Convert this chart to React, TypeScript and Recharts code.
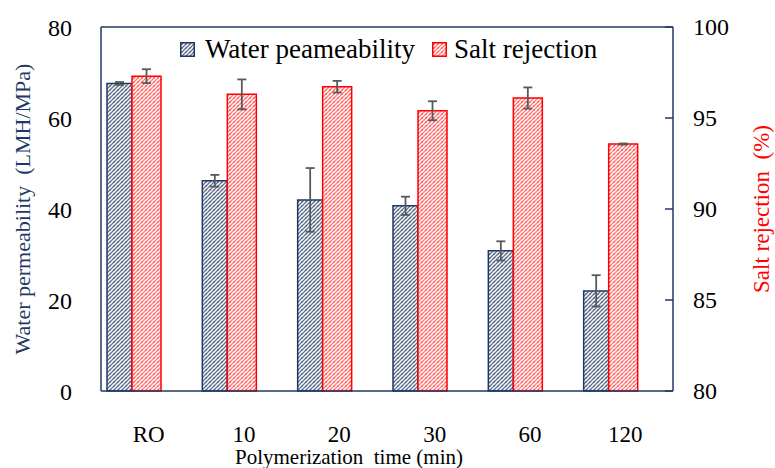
import { BarChart, Bar, XAxis, YAxis, ErrorBar, Legend, ReferenceLine } from "recharts";

const categories = ["RO", "10", "20", "30", "60", "120"];
const waterPermeability = [67.6, 46.2, 42.0, 40.7, 30.8, 22.0];
const waterError = [0.3, 1.3, 7.0, 2.0, 2.1, 3.45];
const saltRejection = [97.3, 96.3, 96.72, 95.4, 96.1, 93.57];
const saltError = [0.38, 0.82, 0.32, 0.52, 0.58, 0.03];
const leftTicks = [0, 20, 40, 60, 80];
const rightTicks = [80, 85, 90, 95, 100];

const data = categories.map((name, i) => ({
  name,
  water: waterPermeability[i],
  waterErr: waterError[i],
  salt: saltRejection[i],
  saltErr: saltError[i],
}));

const NAVY = "#1F3864";
const RED = "#FF0000";
const FONT = '"Liberation Serif", "Times New Roman", serif';

// right axis: inward tick marks + labels
const RightTick = (props: any) => {
  const { x, y, payload } = props;
  return (
    <g>
      <line x1={x - 28} x2={x - 20} y1={y} y2={y} stroke={NAVY} strokeWidth={1.5} />
      <text x={x} y={y} dy="0.35em" textAnchor="start" fontSize={24} fill="#000" fontFamily={FONT}>
        {payload.value}
      </text>
    </g>
  );
};

const Swatch = ({ color, pattern }: { color: string; pattern: string }) => (
  <svg width={15} height={15} style={{ display: "block" }}>
    <rect x={0.75} y={0.75} width={13.5} height={13.5} fill={`url(#${pattern})`} stroke={color} strokeWidth={1.5} />
  </svg>
);

const LegendContent = () => (
  <div style={{ display: "flex", alignItems: "center", fontFamily: FONT, fontSize: 27, color: "#000", lineHeight: 1 }}>
    <Swatch color={NAVY} pattern="hatchNavy" />
    <span style={{ marginLeft: 10, marginRight: 17 }}>Water peameability</span>
    <Swatch color={RED} pattern="hatchRed" />
    <span style={{ marginLeft: 7 }}>Salt rejection</span>
  </div>
);

export default function App() {
  return (
    <div style={{ position: "absolute", left: 0, top: 0, background: "#fff" }}>
      <BarChart
        width={775}
        height={468}
        data={data}
        margin={{ top: 27, right: 0, bottom: 0, left: 0 }}
        barGap={0}
        barCategoryGap={0}
      >
        <defs>
          <pattern id="hatchNavy" width={4} height={4} patternUnits="userSpaceOnUse">
            <rect width={4} height={4} fill="#fff" />
            <path d="M-1,1 L1,-1 M0,4 L4,0 M3,5 L5,3" stroke={NAVY} strokeWidth={1.3} strokeOpacity={0.7} />
            <rect x={1.5} y={1.5} width={1} height={1} fill={NAVY} />
          </pattern>
          <pattern id="hatchRed" width={4} height={4} patternUnits="userSpaceOnUse">
            <rect width={4} height={4} fill="#fff" />
            <path d="M-1,1 L1,-1 M0,4 L4,0 M3,5 L5,3" stroke={RED} strokeWidth={1.3} strokeOpacity={0.5} />
            <rect x={1.5} y={1.5} width={1} height={1} fill={RED} />
          </pattern>
        </defs>
        <XAxis
          dataKey="name"
          height={77}
          axisLine={{ stroke: NAVY, strokeWidth: 1.5 }}
          tickLine={false}
          tickSize={0}
          tickMargin={35}
          tick={{ fontSize: 23, fill: "#000", fontFamily: FONT }}
          label={{
            value: "Polymerization\u00A0 time (min)",
            position: "insideBottom",
            offset: 4,
            dx: -38,
            style: { fontSize: 21, fill: "#000", fontFamily: FONT },
          }}
        />
        <YAxis
          yAxisId="left"
          width={101}
          domain={[0, 80]}
          ticks={leftTicks}
          axisLine={{ stroke: NAVY, strokeWidth: 1.5 }}
          tickLine={false}
          tickSize={0}
          tickMargin={29}
          tick={{ fontSize: 24, fill: "#000", fontFamily: FONT }}
          label={{
            value: "Water permeability\u00A0 (LMH/MPa)",
            angle: -90,
            position: "insideLeft",
            offset: 22,
            style: { fontSize: 22, fill: NAVY, fontFamily: FONT, textAnchor: "middle" },
          }}
        />
        <YAxis
          yAxisId="right"
          orientation="right"
          width={102}
          domain={[80, 100]}
          ticks={rightTicks}
          axisLine={{ stroke: NAVY, strokeWidth: 1.5 }}
          tickLine={false}
          tickSize={0}
          tickMargin={20}
          tick={<RightTick />}
          label={{
            value: "Salt rejection\u00A0 (%)",
            angle: -90,
            position: "insideRight",
            offset: 14,
            style: { fontSize: 23, fill: RED, fontFamily: FONT, textAnchor: "middle" },
          }}
        />
        <ReferenceLine yAxisId="left" y={80} stroke={NAVY} strokeWidth={1.5} />
        <Legend
          layout="vertical"
          verticalAlign="middle"
          align="center"
          content={<LegendContent />}
          wrapperStyle={{ top: 36, left: 180, width: "auto" }}
        />
        <Bar
          yAxisId="left"
          dataKey="water"
          barSize={25}
          fill="url(#hatchNavy)"
          stroke={NAVY}
          strokeWidth={1.5}
          isAnimationActive={false}
        >
          <ErrorBar dataKey="waterErr" width={4.5} stroke="#595959" strokeWidth={1.8} />
        </Bar>
        <Bar
          yAxisId="right"
          dataKey="salt"
          barSize={29}
          fill="url(#hatchRed)"
          stroke={RED}
          strokeWidth={1.5}
          isAnimationActive={false}
        >
          <ErrorBar dataKey="saltErr" width={4.5} stroke="#595959" strokeWidth={1.8} />
        </Bar>
        {/* empty slot after the pair, keeps the pair left of the category tick */}
        <Bar
          yAxisId="left"
          dataKey={() => 0}
          barSize={29}
          fill="none"
          legendType="none"
          isAnimationActive={false}
        />
      </BarChart>
    </div>
  );
}
